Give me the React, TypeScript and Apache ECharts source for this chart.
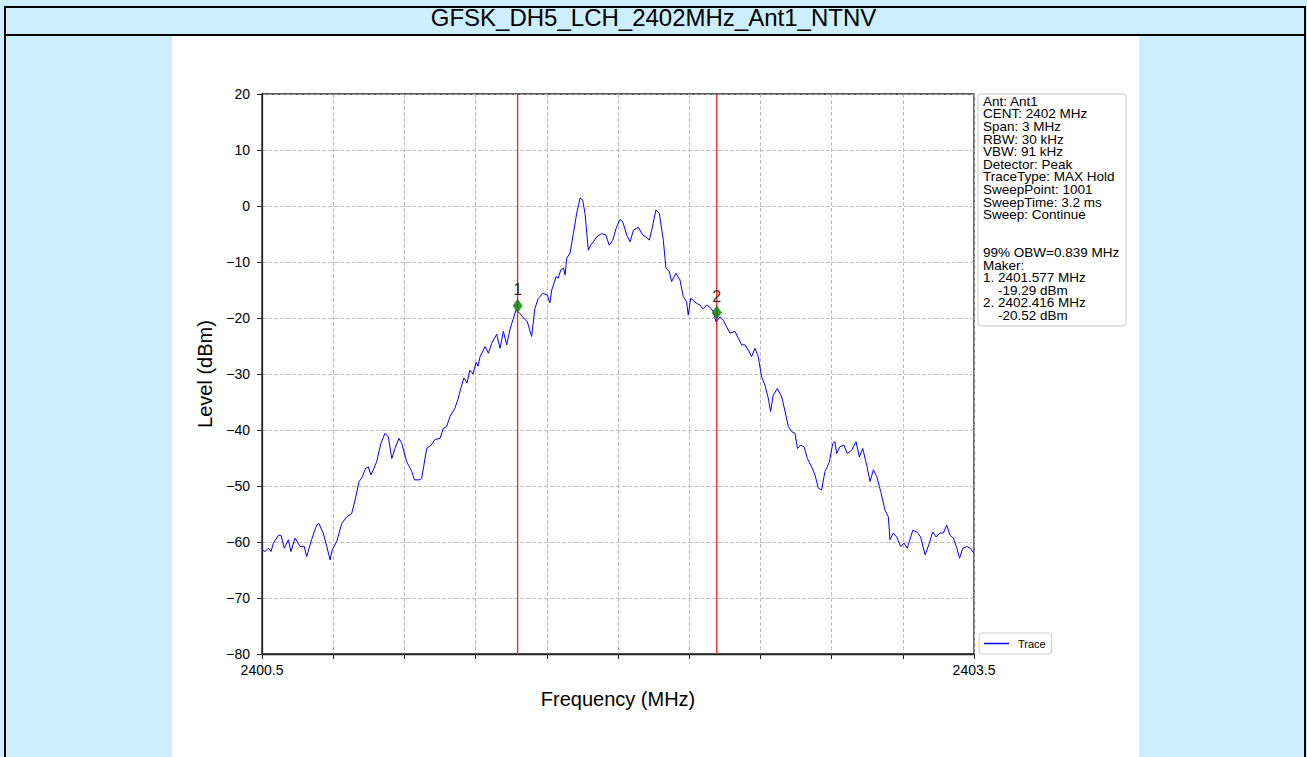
import React, { useEffect, useRef } from "react";
import * as echarts from "echarts";

const chartTitle = "GFSK_DH5_LCH_2402MHz_Ant1_NTNV";
const xAxisName = "Frequency (MHz)";
const yAxisName = "Level (dBm)";
const xMin = 2400.5;
const xMax = 2403.5;
const xStep = 0.3;
const xTickLabels = ["2400.5", "2403.5"];
const yMin = -80;
const yMax = 20;
const yStep = 10;

const traceFreq = [
  2400.5, 2400.513, 2400.527, 2400.538, 2400.548, 2400.569, 2400.58, 2400.594, 2400.611, 2400.622,
  2400.639, 2400.66, 2400.678, 2400.688, 2400.709, 2400.73, 2400.74, 2400.758, 2400.773, 2400.787,
  2400.796, 2400.815, 2400.836, 2400.857, 2400.878, 2400.892, 2400.909, 2400.92, 2400.937, 2400.948,
  2400.959, 2400.969, 2400.983, 2401.001, 2401.018, 2401.032, 2401.047, 2401.06, 2401.077, 2401.089,
  2401.11, 2401.131, 2401.142, 2401.166, 2401.173, 2401.194, 2401.212, 2401.229, 2401.25, 2401.264,
  2401.278, 2401.292, 2401.313, 2401.325, 2401.338, 2401.351, 2401.364, 2401.376, 2401.389, 2401.402,
  2401.41, 2401.419, 2401.44, 2401.454, 2401.468, 2401.489, 2401.503, 2401.517, 2401.531, 2401.545,
  2401.559, 2401.57, 2401.58, 2401.587, 2401.598, 2401.618, 2401.636, 2401.65, 2401.664, 2401.683,
  2401.702, 2401.713, 2401.721, 2401.739, 2401.748, 2401.759, 2401.77, 2401.777, 2401.784, 2401.798,
  2401.812, 2401.826, 2401.84, 2401.851, 2401.861, 2401.875, 2401.885, 2401.896, 2401.91, 2401.931,
  2401.949, 2401.963, 2401.978, 2401.992, 2402.008, 2402.02, 2402.037, 2402.051, 2402.065, 2402.086,
  2402.104, 2402.121, 2402.132, 2402.142, 2402.16, 2402.174, 2402.191, 2402.202, 2402.216, 2402.226,
  2402.244, 2402.261, 2402.275, 2402.289, 2402.296, 2402.306, 2402.317, 2402.332, 2402.346, 2402.359,
  2402.374, 2402.388, 2402.402, 2402.413, 2402.43, 2402.444, 2402.458, 2402.472, 2402.493, 2402.507,
  2402.521, 2402.535, 2402.549, 2402.563, 2402.577, 2402.591, 2402.605, 2402.619, 2402.633, 2402.643,
  2402.654, 2402.671, 2402.69, 2402.704, 2402.718, 2402.732, 2402.746, 2402.756, 2402.77, 2402.784,
  2402.798, 2402.816, 2402.83, 2402.844, 2402.858, 2402.872, 2402.89, 2402.905, 2402.914, 2402.921,
  2402.935, 2402.952, 2402.966, 2402.985, 2403.003, 2403.017, 2403.031, 2403.048, 2403.062, 2403.076,
  2403.09, 2403.107, 2403.125, 2403.139, 2403.146, 2403.16, 2403.174, 2403.191, 2403.205, 2403.219,
  2403.242, 2403.259, 2403.275, 2403.294, 2403.312, 2403.326, 2403.34, 2403.357, 2403.371, 2403.385,
  2403.399, 2403.413, 2403.428, 2403.439, 2403.453, 2403.47, 2403.483, 2403.5,
];

const traceLevel = [
  -61.4, -61.7, -61.1, -61.7, -60.2, -58.8, -58.8, -61.1, -59.6, -61.7,
  -59.3, -60.8, -60.8, -62.6, -59.6, -57.0, -56.7, -58.4, -60.8, -63.2,
  -61.4, -59.9, -56.7, -55.5, -54.9, -52.5, -49.2, -48.6, -46.8, -46.6,
  -48.0, -47.1, -45.7, -42.4, -40.6, -41.2, -45.1, -43.3, -41.5, -42.4,
  -45.7, -47.4, -48.9, -48.9, -48.6, -43.3, -42.7, -41.7, -41.5, -39.7,
  -39.4, -37.6, -36.1, -34.6, -32.5, -30.7, -31.6, -29.3, -30.0, -27.9,
  -28.6, -26.9, -25.1, -26.3, -24.5, -22.9, -25.4, -22.4, -24.8, -22.0,
  -20.1, -18.6, -18.9, -19.2, -19.8, -20.7, -23.3, -18.3, -16.5, -15.6,
  -15.9, -17.3, -15.0, -12.6, -12.9, -11.4, -11.1, -12.3, -9.3, -8.4,
  -4.9, -1.3, 1.4, 1.1, -1.3, -7.9, -7.0, -6.4, -5.5, -4.9,
  -5.2, -7.0, -6.1, -4.0, -2.4, -2.8, -5.2, -6.4, -4.3, -3.8,
  -5.2, -5.6, -6.1, -4.3, -0.7, -1.3, -6.1, -11.1, -11.7, -13.5,
  -12.0, -13.2, -16.2, -17.1, -19.5, -16.5, -16.8, -17.4, -17.7, -18.4,
  -17.7, -18.1, -18.9, -20.7, -19.8, -20.4, -21.6, -22.7, -22.4, -23.6,
  -24.8, -24.8, -25.7, -26.9, -25.4, -26.9, -30.5, -32.0, -34.3, -36.7,
  -33.8, -32.6, -34.1, -36.7, -39.4, -40.3, -40.6, -43.3, -42.7, -43.0,
  -45.1, -46.6, -48.0, -50.4, -50.7, -47.4, -45.8, -42.4, -42.1, -44.2,
  -43.0, -42.7, -44.2, -43.6, -42.1, -44.8, -43.3, -46.3, -49.2, -47.1,
  -48.3, -51.0, -54.3, -55.5, -59.6, -58.4, -59.1, -60.8, -60.2, -61.1,
  -57.9, -58.2, -59.1, -62.3, -60.2, -58.2, -59.1, -58.4, -58.4, -57.0,
  -58.8, -59.3, -61.1, -62.9, -61.1, -60.8, -61.1, -62.0,
];

const markerNames = ["1", "2"];
const markerFreq = [2401.577, 2402.416];
const markerLevel = [-17.8, -19.0];

const infoLines = [
  "Ant: Ant1",
  "CENT: 2402 MHz",
  "Span: 3 MHz",
  "RBW: 30 kHz",
  "VBW: 91 kHz",
  "Detector: Peak",
  "TraceType: MAX Hold",
  "SweepPoint: 1001",
  "SweepTime: 3.2 ms",
  "Sweep: Continue",
  "",
  "",
  "99% OBW=0.839 MHz",
  "Maker:",
  "1. 2401.577 MHz",
  "    -19.29 dBm",
  "2. 2402.416 MHz",
  "    -20.52 dBm",
];

const FONT = "'Liberation Sans', Arial, sans-serif";

export default function App() {
  const ref = useRef<HTMLDivElement>(null);

  useEffect(() => {
    if (!ref.current) return;
    const chart = echarts.init(ref.current, undefined, { renderer: "svg" });
    const traceData = traceFreq.map((f, i) => [f, traceLevel[i]]);
    const markerData = markerFreq.map((f, i) => ({ name: markerNames[i], value: [f, markerLevel[i]] }));

    const cursorSeries = markerFreq.map((f, i) => ({
      name: "Cursor " + markerNames[i],
      type: "line",
      data: [
        [f, yMin],
        [f, yMax],
      ],
      symbol: "none",
      showSymbol: false,
      silent: true,
      lineStyle: { color: "#ff2020", width: 1.3 },
      itemStyle: { color: "#ff2020" },
      z: 1,
    }));

    chart.setOption({
      animation: false,
      backgroundColor: "transparent",
      textStyle: { fontFamily: FONT },
      title: {
        text: chartTitle,
        left: "center",
        top: 0,
        textStyle: { fontFamily: FONT, fontSize: 24, fontWeight: "normal", color: "#000" },
      },
      grid: {
        left: 262,
        top: 94,
        width: 712,
        height: 560,
        show: true,
        borderColor: "#222",
        borderWidth: 1.3,
        backgroundColor: "transparent",
      },
      legend: {
        data: [{ name: "Trace", icon: "rect" }],
        left: 979,
        top: 633,
        orient: "vertical",
        itemWidth: 25,
        itemHeight: 1.5,
        padding: [5, 6, 5, 5],
        backgroundColor: "#fff",
        borderColor: "#ccc",
        borderWidth: 1,
        borderRadius: 3,
        textStyle: { fontFamily: FONT, fontSize: 11, color: "#000", padding: [0, 0, 0, 4], lineHeight: 10 },
      },
      xAxis: {
        type: "value",
        min: xMin,
        max: xMax,
        interval: xStep,
        name: xAxisName,
        nameLocation: "middle",
        nameGap: 35,
        nameTextStyle: { fontFamily: FONT, fontSize: 20, color: "#000" },
        axisLine: { show: true, onZero: false, lineStyle: { color: "#222", width: 1.3 } },
        axisTick: { show: true, inside: false, length: 5, lineStyle: { color: "#222", width: 1 } },
        axisLabel: {
          show: true,
          margin: 9,
          fontFamily: FONT,
          fontSize: 14,
          color: "#000",
          showMinLabel: true,
          showMaxLabel: true,
          hideOverlap: false,
          formatter: (v: number) =>
            Math.abs(v - xMin) < 1e-6 ? xTickLabels[0] : Math.abs(v - xMax) < 1e-6 ? xTickLabels[1] : "",
        },
        splitLine: { show: true, lineStyle: { color: "#b0b0b0", type: [4, 2], width: 0.8 } },
      },
      yAxis: {
        type: "value",
        min: yMin,
        max: yMax,
        interval: yStep,
        name: yAxisName,
        nameLocation: "middle",
        nameGap: 43,
        nameTextStyle: { fontFamily: FONT, fontSize: 20, color: "#000" },
        axisLine: { show: true, onZero: false, lineStyle: { color: "#222", width: 1.3 } },
        axisTick: { show: true, inside: false, length: 5, lineStyle: { color: "#222", width: 1 } },
        axisLabel: {
          margin: 12,
          fontFamily: FONT,
          fontSize: 14,
          color: "#000",
          formatter: (v: number) => String(v).replace("-", "\u2212"),
        },
        splitLine: { show: true, lineStyle: { color: "#b0b0b0", type: [4, 2], width: 0.8 } },
      },
      series: [
        ...cursorSeries,
        {
          name: "Trace",
          type: "line",
          data: traceData,
          symbol: "none",
          showSymbol: false,
          smooth: false,
          lineStyle: { color: "#0000ff", width: 1 },
          itemStyle: { color: "#0000ff" },
          z: 2,
        },
        {
          name: "Marker",
          type: "scatter",
          data: markerData,
          symbol: "diamond",
          symbolSize: [10, 14],
          itemStyle: { color: "#008000" },
          z: 4,
          label: {
            show: true,
            position: "top",
            distance: 1,
            formatter: (p: any) => p.name,
            fontFamily: FONT,
            fontSize: 16,
            color: "#000",
          },
        },
      ],
      graphic: [
        {
          type: "rect",
          shape: { x: 978, y: 94, width: 148, height: 232, r: 3 },
          style: { fill: "#fff", stroke: "#c8c8c8", lineWidth: 1 },
          z: 10,
        },
        {
          type: "text",
          x: 983,
          y: 95,
          z: 11,
          style: {
            text: infoLines.join("\n"),
            fontFamily: FONT,
            fontSize: 13.5,
            lineHeight: 12.6,
            fill: "#000",
            textVerticalAlign: "top",
          },
        },
      ],
    });

    return () => chart.dispose();
  }, []);

  return (
    <div style={{ position: "absolute", left: 0, top: 0, width: 1307, height: 757, overflow: "hidden", background: "#cdeefc" }}>
      <div
        style={{
          position: "absolute",
          left: 4,
          top: 6,
          width: 1302,
          height: 800,
          boxSizing: "border-box",
          border: "2px solid #000",
        }}
      />
      <div style={{ position: "absolute", left: 4, top: 34, width: 1302, height: 2, background: "#000" }} />
      <div style={{ position: "absolute", left: 172, top: 36, width: 967, height: 721, background: "#fff" }} />
      <div ref={ref} style={{ position: "absolute", left: 0, top: 0, width: 1307, height: 757 }} />
    </div>
  );
}
